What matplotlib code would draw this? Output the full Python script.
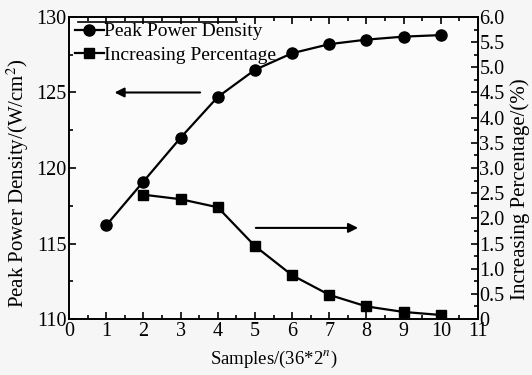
import numpy as np
import matplotlib
matplotlib.use("Agg")
import matplotlib.pyplot as plt
from matplotlib.ticker import MultipleLocator, FixedLocator

plt.rcParams['font.family'] = ['Liberation Serif', 'DejaVu Serif']
plt.rcParams['mathtext.fontset'] = 'stix'

samples = [1, 2, 3, 4, 5, 6, 7, 8, 9, 10]
peak_power = [116.2, 119.1, 122.0, 124.7, 126.5, 127.6, 128.2, 128.5, 128.7, 128.8]
pct_samples = [2, 3, 4, 5, 6, 7, 8, 9, 10]
increase_pct = [2.47, 2.38, 2.22, 1.45, 0.87, 0.48, 0.25, 0.14, 0.08]

right_ticks = [0, 0.5, 1.0, 1.5, 2.0, 2.5, 3.0, 3.5, 4.0, 4.5, 5.0, 5.5, 6.0]
right_labels = ['0'] + ['%.1f' % v for v in right_ticks[1:]]

fig = plt.figure(figsize=(5.32, 3.75), dpi=100, facecolor='#f6f6f6')
ax = fig.add_axes([0.1297, 0.1493, 0.7688, 0.8054])
ax.set_facecolor('#fbfbfb')
ax2 = ax.twinx()

l1, = ax.plot(samples, peak_power, color='k', lw=1.6, marker='o', ms=8)
l2, = ax2.plot(pct_samples, increase_pct, color='k', lw=1.6, marker='s', ms=7)

ax.set_xlim(0, 11)
ax.set_ylim(110, 130)
ax2.set_ylim(0, 6)

ax.xaxis.set_major_locator(MultipleLocator(1))
ax.xaxis.set_minor_locator(MultipleLocator(0.5))
ax.yaxis.set_major_locator(MultipleLocator(5))
ax.yaxis.set_minor_locator(MultipleLocator(2.5))
ax2.yaxis.set_major_locator(FixedLocator(right_ticks))
ax2.set_yticklabels(right_labels)
ax2.yaxis.set_minor_locator(MultipleLocator(0.25))

ax.tick_params(which='both', direction='in', top=True, right=False, labelsize=14.5, width=1.2)
ax.tick_params(which='major', length=5)
ax.tick_params(which='minor', length=3)
ax.tick_params(axis='x', pad=2)
ax.tick_params(axis='y', pad=2)
ax2.tick_params(which='both', direction='in', labelsize=14.5, width=1.2, pad=1)
ax2.tick_params(which='major', length=5)
ax2.tick_params(which='minor', length=3)
for a in (ax, ax2):
    for s in a.spines.values():
        s.set_linewidth(1.2)

ax.set_xlabel('Samples/(36*2$^n$)', fontsize=13.5, labelpad=6)
ax.set_ylabel('Peak Power Density/(W/cm$^2$)', fontsize=15)
ax2.set_ylabel('Increasing Percentage/(%)', fontsize=15)
ax.yaxis.set_label_coords(-0.093, 0.45)
ax2.yaxis.set_label_coords(1.08, 0.43)

ax.legend([l1, l2], ['Peak Power Density', 'Increasing Percentage'], loc='upper left',
          bbox_to_anchor=(0.0, 1.0), frameon=False, fontsize=14, handlelength=1.5,
          handletextpad=0.0, borderaxespad=0.1, labelspacing=0.3, borderpad=0.2)
ax.plot([0.022, 0.41], [0.983, 0.983], color='k', lw=1.2, transform=ax.transAxes, clip_on=False)

ax.annotate('', xy=(1.15, 125), xytext=(3.6, 125),
            arrowprops=dict(arrowstyle='-|>', color='k', lw=1.5, mutation_scale=14))
ax2.annotate('', xy=(7.85, 1.81), xytext=(4.95, 1.81),
             arrowprops=dict(arrowstyle='-|>', color='k', lw=1.5, mutation_scale=14))

fig.savefig('out.png', dpi=100, facecolor=fig.get_facecolor())
